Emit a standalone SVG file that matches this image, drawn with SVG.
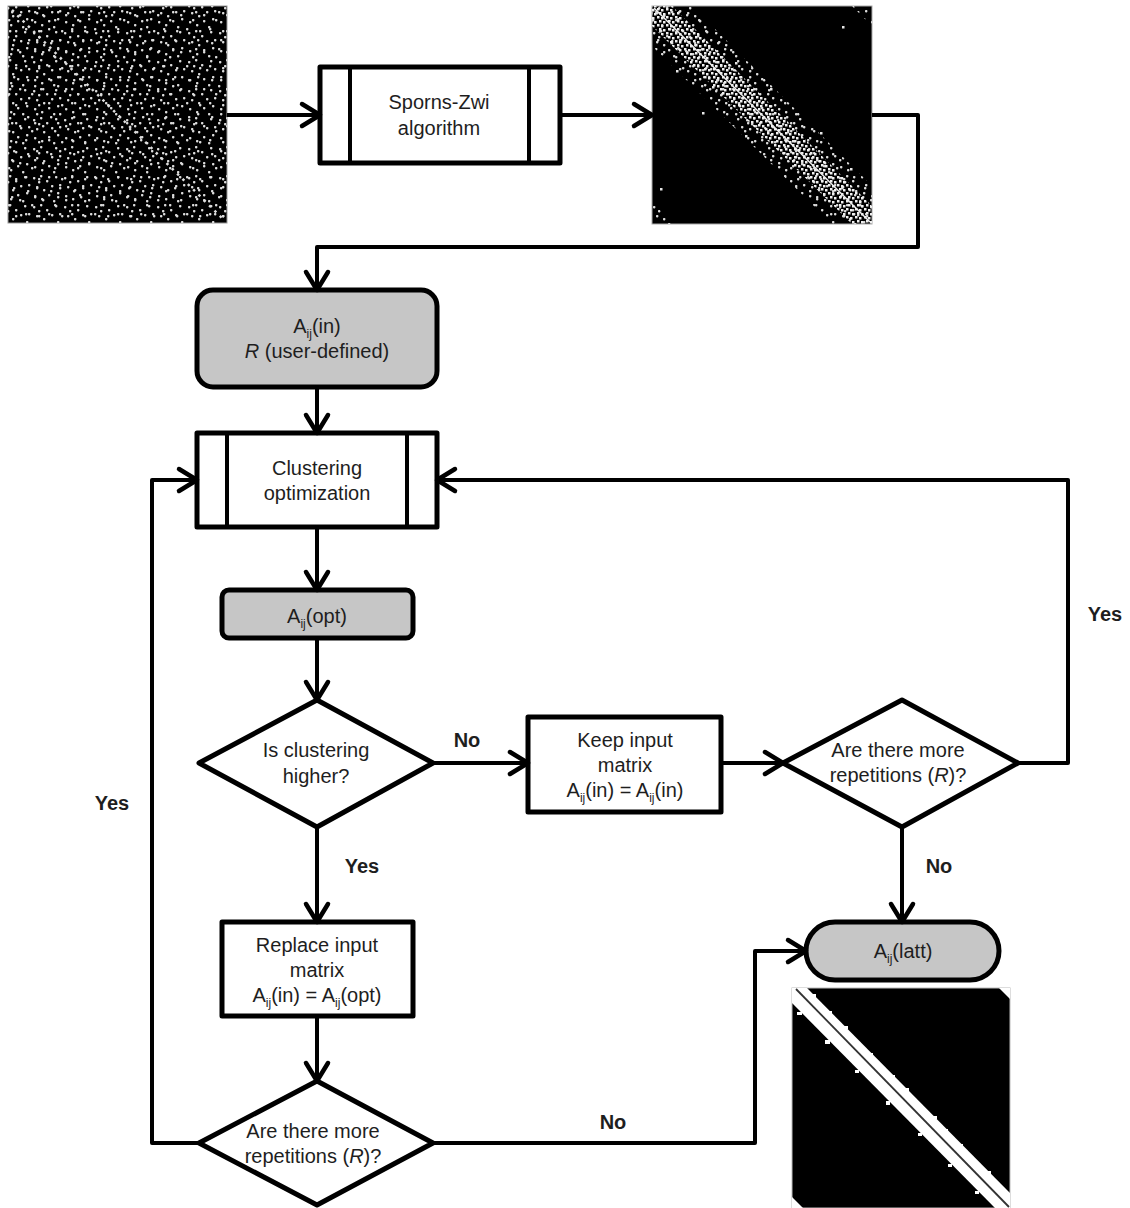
<svg xmlns="http://www.w3.org/2000/svg" width="1130" height="1208" viewBox="0 0 1130 1208">
<style>
.box{fill:#fff;stroke:#000;stroke-width:5;stroke-linejoin:round}
.gray{fill:#c6c6c6;stroke:#000;stroke-width:5}
.ln{fill:none;stroke:#000;stroke-width:4;stroke-linejoin:round}
.t{font-family:"Liberation Sans",Arial,sans-serif;font-size:20px;fill:#1e1e1e;text-anchor:middle}
.lb{font-family:"Liberation Sans",Arial,sans-serif;font-size:20px;font-weight:bold;fill:#1e1e1e;text-anchor:middle}
.sub{font-size:12px}
</style>
<defs>
<marker id="ah" markerUnits="userSpaceOnUse" markerWidth="26" markerHeight="28" refX="21" refY="14" orient="auto" overflow="visible">
<path d="M3,3 L21,14 L3,25" fill="none" stroke="#000" stroke-width="4.5" stroke-linecap="round" stroke-linejoin="round"/>
</marker>
<pattern id="n1" width="31" height="29" patternUnits="userSpaceOnUse">
<g fill="#dcdcdc">
<rect x="2" y="3" width="2.4" height="2.4" rx="0.8"/><rect x="9" y="1" width="2.4" height="2.4" rx="0.8"/><rect x="15" y="6" width="2.4" height="2.4" rx="0.8"/>
<rect x="24" y="2" width="2.4" height="2.4" rx="0.8"/><rect x="28" y="10" width="2.4" height="2.4" rx="0.8"/><rect x="5" y="12" width="2.4" height="2.4" rx="0.8"/>
<rect x="12" y="15" width="2.4" height="2.4" rx="0.8"/><rect x="20" y="11" width="2.4" height="2.4" rx="0.8"/><rect x="26" y="18" width="2.4" height="2.4" rx="0.8"/>
<rect x="3" y="21" width="2.4" height="2.4" rx="0.8"/><rect x="10" y="24" width="2.4" height="2.4" rx="0.8"/><rect x="17" y="20" width="2.4" height="2.4" rx="0.8"/>
<rect x="22" y="26" width="2.4" height="2.4" rx="0.8"/><rect x="7" y="7" width="2.4" height="2.4" rx="0.8"/>
</g>
</pattern>
<pattern id="n2" width="23" height="37" patternUnits="userSpaceOnUse">
<g fill="#dcdcdc">
<rect x="4" y="5" width="2.4" height="2.4" rx="0.8"/><rect x="13" y="2" width="2.4" height="2.4" rx="0.8"/><rect x="19" y="14" width="2.4" height="2.4" rx="0.8"/>
<rect x="8" y="19" width="2.4" height="2.4" rx="0.8"/><rect x="2" y="28" width="2.4" height="2.4" rx="0.8"/><rect x="15" y="30" width="2.4" height="2.4" rx="0.8"/>
<rect x="11" y="11" width="2.4" height="2.4" rx="0.8"/>
</g>
</pattern>
<pattern id="d1" width="9" height="8" patternUnits="userSpaceOnUse">
<g fill="#f0f0f0">
<rect x="0" y="0" width="2.5" height="2.5"/><rect x="4" y="1" width="2.5" height="2.5"/><rect x="2" y="4" width="2.5" height="2.5"/><rect x="6" y="5" width="2.5" height="2.5"/>
</g>
</pattern>
<clipPath id="c1"><polygon points="652,6 692,6 872,186 872,224 832,224 652,46"/></clipPath>
<clipPath id="c2"><polygon points="652,6 672,6 872,206 872,224 852,224 652,26"/></clipPath>
<clipPath id="c3"><polygon points="852,6 872,6 872,26"/></clipPath>
<clipPath id="c4"><polygon points="652,202 652,224 674,224"/></clipPath>
</defs>

<g id="matrix-input">
<rect x="8" y="6" width="219" height="217" fill="#000" stroke="#999" stroke-width="1"/>
<rect x="8" y="6" width="219" height="217" fill="url(#n1)"/>
<rect x="8" y="6" width="219" height="217" fill="url(#n2)"/>
<line x1="12" y1="10" x2="222" y2="218" stroke="#ddd" stroke-width="2.5" stroke-dasharray="2.5 5"/>
</g>

<g id="sporns-zwi">
<rect class="box" x="320" y="67" width="240" height="96"/>
<line class="ln" x1="350" y1="67" x2="350" y2="163"/>
<line class="ln" x1="529" y1="67" x2="529" y2="163"/>
<text class="t" x="439" y="109">Sporns-Zwi</text>
<text class="t" x="439" y="135">algorithm</text>
</g>

<g id="matrix-sz">
<rect x="652" y="6" width="220" height="218" fill="#000" stroke="#aaa" stroke-width="1"/>
<rect x="652" y="6" width="220" height="218" fill="url(#n2)" clip-path="url(#c1)"/>
<rect x="652" y="6" width="220" height="218" fill="url(#n1)" clip-path="url(#c1)"/>
<rect x="652" y="6" width="220" height="218" fill="url(#d1)" clip-path="url(#c2)"/>
<rect x="652" y="6" width="220" height="218" fill="url(#n1)" clip-path="url(#c3)"/>
<rect x="652" y="6" width="220" height="218" fill="url(#n1)" clip-path="url(#c4)"/>
<line x1="654" y1="8" x2="870" y2="222" stroke="#eee" stroke-width="1.5"/>
<g fill="#e6e6e6">
<rect x="676" y="70" width="2.5" height="2.5"/><rect x="712" y="86" width="2.5" height="2.5"/><rect x="735" y="62" width="2.5" height="2.5"/>
<rect x="792" y="140" width="2.5" height="2.5"/><rect x="820" y="132" width="2.5" height="2.5"/><rect x="745" y="135" width="2.5" height="2.5"/>
<rect x="770" y="88" width="2.5" height="2.5"/><rect x="850" y="168" width="2.5" height="2.5"/><rect x="702" y="112" width="2.5" height="2.5"/>
<rect x="842" y="26" width="2.5" height="2.5"/><rect x="660" y="188" width="2.5" height="2.5"/>
</g>
</g>

<g id="aij-in">
<rect class="gray" x="197" y="290" width="240" height="97" rx="16"/>
<text class="t" x="317" y="333">A<tspan class="sub" dy="5">ij</tspan><tspan dy="-5">(in)</tspan></text>
<text class="t" x="317" y="358"><tspan font-style="italic">R</tspan> (user-defined)</text>
</g>

<g id="clustering-opt">
<rect class="box" x="197" y="433" width="240" height="94"/>
<line class="ln" x1="227" y1="433" x2="227" y2="527"/>
<line class="ln" x1="407" y1="433" x2="407" y2="527"/>
<text class="t" x="317" y="475">Clustering</text>
<text class="t" x="317" y="500">optimization</text>
</g>

<g id="aij-opt">
<rect class="gray" x="222" y="590" width="191" height="48" rx="7"/>
<text class="t" x="317" y="623">A<tspan class="sub" dy="5">ij</tspan><tspan dy="-5">(opt)</tspan></text>
</g>

<g id="decision-higher">
<polygon class="box" points="317,700 433,763 317,827 199,763"/>
<text class="t" x="316" y="757">Is clustering</text>
<text class="t" x="316" y="783">higher?</text>
</g>

<g id="keep-input">
<rect class="box" x="528" y="717" width="193" height="95"/>
<text class="t" x="625" y="747">Keep input</text>
<text class="t" x="625" y="772">matrix</text>
<text class="t" x="625" y="797">A<tspan class="sub" dy="5">ij</tspan><tspan dy="-5">(in) = A</tspan><tspan class="sub" dy="5">ij</tspan><tspan dy="-5">(in)</tspan></text>
</g>

<g id="decision-repeat-1">
<polygon class="box" points="902,700 1018,763 902,827 783,763"/>
<text class="t" x="898" y="757">Are there more</text>
<text class="t" x="898" y="782">repetitions (<tspan font-style="italic">R</tspan>)?</text>
</g>

<g id="replace-input">
<rect class="box" x="222" y="922" width="191" height="94"/>
<text class="t" x="317" y="952">Replace input</text>
<text class="t" x="317" y="977">matrix</text>
<text class="t" x="317" y="1002">A<tspan class="sub" dy="5">ij</tspan><tspan dy="-5">(in) = A</tspan><tspan class="sub" dy="5">ij</tspan><tspan dy="-5">(opt)</tspan></text>
</g>

<g id="decision-repeat-2">
<polygon class="box" points="317,1081 433,1143 317,1205 199,1143"/>
<text class="t" x="313" y="1138">Are there more</text>
<text class="t" x="313" y="1163">repetitions (<tspan font-style="italic">R</tspan>)?</text>
</g>

<g id="aij-latt">
<rect class="gray" x="806" y="922" width="193" height="58" rx="29"/>
<text class="t" x="903" y="958">A<tspan class="sub" dy="5">ij</tspan><tspan dy="-5">(latt)</tspan></text>
</g>

<g id="matrix-latt">
<rect x="792" y="988" width="218" height="220" fill="#000" stroke="#bbb" stroke-width="1"/>
<polygon points="792,988 807,988 1010,1193 1010,1208 995,1208 792,1003" fill="#fff"/>
<g fill="#fff">
<rect x="811" y="994" width="5" height="4"/><rect x="843" y="1026" width="5" height="3"/><rect x="869" y="1053" width="4" height="4"/>
<rect x="904" y="1088" width="5" height="3"/><rect x="932" y="1116" width="5" height="3"/><rect x="959" y="1144" width="4" height="4"/>
<rect x="986" y="1171" width="5" height="3"/><rect x="828" y="1011" width="4" height="3"/><rect x="891" y="1075" width="4" height="4"/>
<rect x="944" y="1129" width="4" height="3"/>
<rect x="797" y="1012" width="5" height="3"/><rect x="825" y="1040" width="5" height="4"/><rect x="855" y="1070" width="4" height="3"/>
<rect x="886" y="1101" width="4" height="4"/><rect x="918" y="1133" width="4" height="3"/><rect x="948" y="1164" width="4" height="3"/>
<rect x="975" y="1191" width="4" height="3"/>
</g>
<line x1="796" y1="989" x2="1009" y2="1207" stroke="#333" stroke-width="1.8"/>
<polygon points="999,988 1010,988 1010,999" fill="#fff"/>
<polygon points="792,1197 792,1208 803,1208" fill="#fff"/>
</g>

<g id="connectors">
<line class="ln" x1="227" y1="115" x2="320" y2="115" marker-end="url(#ah)"/>
<line class="ln" x1="560" y1="115" x2="652" y2="115" marker-end="url(#ah)"/>
<polyline class="ln" points="872,115 918,115 918,247 317,247 317,290" marker-end="url(#ah)"/>
<line class="ln" x1="317" y1="387" x2="317" y2="433" marker-end="url(#ah)"/>
<line class="ln" x1="317" y1="527" x2="317" y2="590" marker-end="url(#ah)"/>
<line class="ln" x1="317" y1="638" x2="317" y2="700" marker-end="url(#ah)"/>
<line class="ln" x1="433" y1="763" x2="528" y2="763" marker-end="url(#ah)"/>
<line class="ln" x1="721" y1="763" x2="783" y2="763" marker-end="url(#ah)"/>
<polyline class="ln" points="1018,763 1068,763 1068,480 437,480" marker-end="url(#ah)"/>
<line class="ln" x1="317" y1="827" x2="317" y2="922" marker-end="url(#ah)"/>
<line class="ln" x1="902" y1="827" x2="902" y2="922" marker-end="url(#ah)"/>
<line class="ln" x1="317" y1="1016" x2="317" y2="1081" marker-end="url(#ah)"/>
<polyline class="ln" points="433,1143 755,1143 755,951 806,951" marker-end="url(#ah)"/>
<polyline class="ln" points="199,1143 152,1143 152,480 197,480" marker-end="url(#ah)"/>
<text class="lb" x="467" y="747">No</text>
<text class="lb" x="362" y="873">Yes</text>
<text class="lb" x="939" y="873">No</text>
<text class="lb" x="1105" y="621">Yes</text>
<text class="lb" x="112" y="810">Yes</text>
<text class="lb" x="613" y="1129">No</text>
</g>
</svg>
